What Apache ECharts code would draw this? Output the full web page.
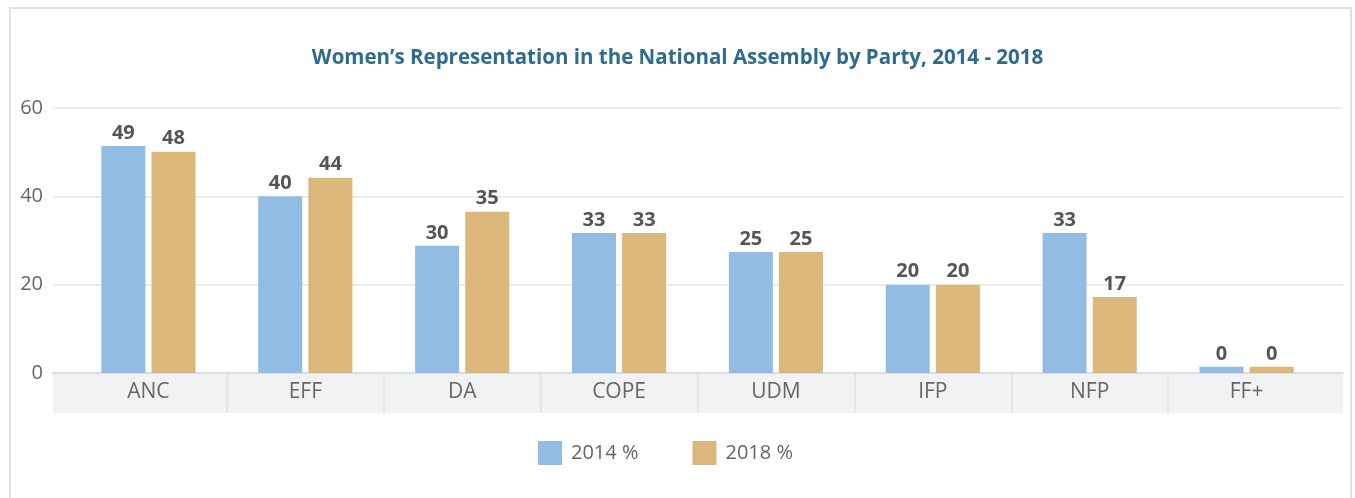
<!DOCTYPE html>
<html>
<head>
<meta charset="utf-8">
<script src="https://cdn.jsdelivr.net/npm/echarts@6/dist/echarts.min.js"></script>
<style>
  html, body { margin: 0; padding: 0; background: #fff; }
  #wrap { position: relative; width: 1355px; height: 498px; overflow: hidden; }
  #frame {
    position: absolute; left: 9px; top: 7px; width: 1343px; height: 520px;
    border: 2px solid #e0e0e0; box-sizing: border-box;
  }
  #chart { position: absolute; left: 0; top: 0; width: 1355px; height: 498px; }
</style>
</head>
<body>
<div id="wrap">
  <div id="frame"></div>
  <div id="chart"></div>
</div>
<script>
// 党派
const parties = ["ANC", "EFF", "DA", "COPE", "UDM", "IFP", "NFP", "FF+"];
// 柱高
const bars2014 = [51.4, 40, 28.8, 31.7, 27.4, 20, 31.7, 1.4];
const bars2018 = [50.1, 44.2, 36.5, 31.7, 27.4, 20, 17.2, 1.4];
// 柱顶标签
const labels2014 = [49, 40, 30, 33, 25, 20, 33, 0];
const labels2018 = [48, 44, 35, 33, 25, 20, 17, 0];
const yTicks = [0, 20, 40, 60];

const font = "'Open Sans', 'Noto Sans', sans-serif";
const chart = echarts.init(document.getElementById("chart"));

const barLabel = (arr) => ({
  show: true,
  position: "top",
  distance: 3,
  fontFamily: font,
  fontWeight: "bold",
  fontSize: 20,
  color: "#555",
  formatter: (p) => String(arr[p.dataIndex]),
});

const option = {
  animation: false,
  title: {
    text: "Women\u2019s Representation in the National Assembly by Party, 2014 - 2018",
    left: "center",
    top: 43,
    textStyle: { fontFamily: font, fontWeight: "bold", fontSize: 20.5, color: "#2e6b8c" },
  },
  legend: {
    top: 436,
    left: 533,
    itemWidth: 24,
    itemHeight: 24,
    itemGap: 54,
    icon: "rect",
    textStyle: { fontFamily: font, fontSize: 20, color: "#666", padding: [0, 0, 0, 4] },
    data: ["2014 %", "2018 %"],
  },
  grid: [
    // 网格线 + y轴
    { left: 53, right: 12, top: 108, bottom: 125 },
    // 类目底色条
    { left: 53, right: 12, top: 374, height: 39, show: true, backgroundColor: "#f1f2f4", borderWidth: 0 },
    // 类目分隔线
    { left: 70, right: 30, top: 374, height: 39 },
    // 柱子
    { left: 70, right: 30, top: 108, bottom: 125 },
  ],
  xAxis: [
    {
      gridIndex: 0, type: "category", data: parties,
      axisLine: { show: true, lineStyle: { color: "#dcdde0", width: 2 } },
      axisTick: { show: false }, axisLabel: { show: false },
    },
    { gridIndex: 1, type: "category", data: parties, show: false },
    {
      gridIndex: 2, type: "category", data: parties,
      axisLine: { show: false }, axisTick: { show: false }, axisLabel: { show: false },
      splitLine: { show: true, showMinLine: false, showMaxLine: false, lineStyle: { color: "#dfe0e3", width: 1.5 } },
    },
    {
      gridIndex: 3, type: "category", data: parties,
      axisLine: { show: false }, axisTick: { show: false },
      axisLabel: { fontFamily: font, fontSize: 21, color: "#666", margin: 9 },
    },
  ],
  yAxis: [
    {
      gridIndex: 0, type: "value", min: yTicks[0], max: yTicks[yTicks.length - 1], interval: 20,
      axisLine: { show: false }, axisTick: { show: false },
      axisLabel: { fontFamily: font, fontSize: 20, color: "#666", margin: 10 },
      splitLine: { lineStyle: { color: "#e6e6e6", width: 1.5 } },
    },
    { gridIndex: 1, type: "value", show: false },
    { gridIndex: 2, type: "value", show: false },
    { gridIndex: 3, type: "value", min: 0, max: 60, show: false },
  ],
  series: [
    {
      name: "2014 %", type: "bar", xAxisIndex: 3, yAxisIndex: 3,
      data: bars2014, barWidth: 44, barGap: "14%",
      itemStyle: { color: "#93bce4" },
      label: barLabel(labels2014),
    },
    {
      name: "2018 %", type: "bar", xAxisIndex: 3, yAxisIndex: 3,
      data: bars2018, barWidth: 44,
      itemStyle: { color: "#dbb77b" },
      label: barLabel(labels2018),
    },
  ],
};
chart.setOption(option);
</script>
</body>
</html>
